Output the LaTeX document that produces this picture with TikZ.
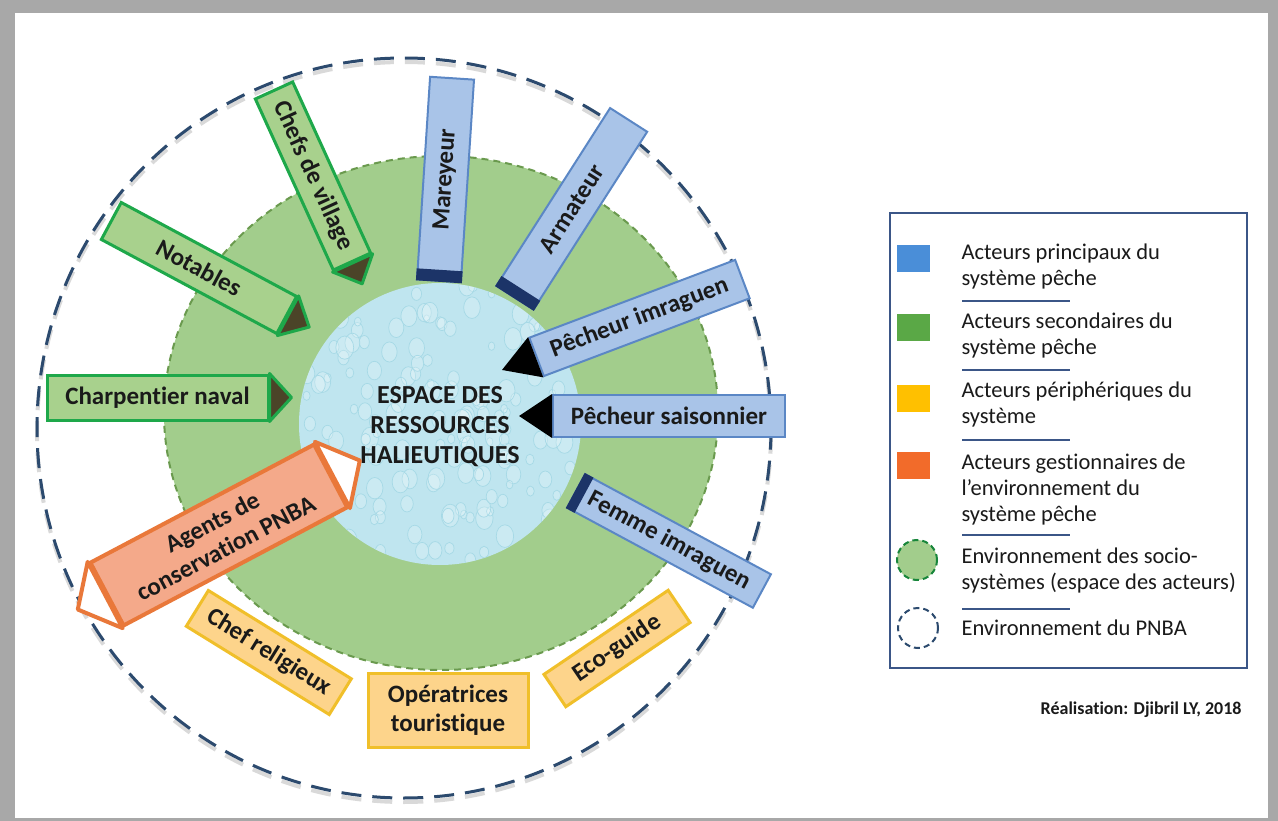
\documentclass[tikz,border=0pt]{standalone}
\usepackage{fontspec}
\setmainfont{Carlito}[Ligatures=NoCommon]
\usetikzlibrary{calc}
\definecolor{ink}{HTML}{1A1A1A}
\definecolor{primfill}{HTML}{A9C4E8}
\definecolor{primline}{HTML}{5B87C5}
\definecolor{primband}{HTML}{1C3468}
\definecolor{secfill}{HTML}{A8D18D}
\definecolor{secline}{HTML}{1EA84A}
\definecolor{sectip}{HTML}{4B4428}
\definecolor{perifill}{HTML}{FDD48B}
\definecolor{periline}{HTML}{F0BF2A}
\definecolor{gestfill}{HTML}{F4A98A}
\definecolor{gestline}{HTML}{E9783A}
\definecolor{disk}{HTML}{A2CD8C}
\definecolor{diskline}{HTML}{6A9A4E}
\definecolor{water}{HTML}{BFE5EF}
\definecolor{dropline}{HTML}{A6D9E6}
\definecolor{pnba}{HTML}{2C4A6E}
\definecolor{framegray}{HTML}{A8A8A8}
\definecolor{keyblue}{HTML}{4A8ED8}
\definecolor{keygreen}{HTML}{5AA846}
\definecolor{keyyellow}{HTML}{FFC000}
\definecolor{keyorange}{HTML}{F26B2A}
\definecolor{legline}{HTML}{3B5687}
\newcommand\boxfont{\bfseries\fontsize{25}{29}\selectfont}
\newcommand\keyfont{\fontsize{22.5}{26}\selectfont}

\begin{document}
\begin{tikzpicture}[x=1pt, y=-1pt,
	prim/.style = {rectangle, draw=primline, fill=primfill, line width=2, text=ink, font=\boxfont, inner sep=2},
	sec/.style  = {rectangle, draw=secline,  fill=secfill,  line width=3, text=ink, font=\boxfont, inner sep=2},
	peri/.style = {rectangle, draw=periline, fill=perifill, line width=3, text=ink, font=\boxfont, inner sep=2, align=center},
	gest/.style = {rectangle, draw=gestline, fill=gestfill, line width=4, text=ink, font=\boxfont, inner sep=2, align=center},
	gtip/.style = {fill=sectip, draw=secline, line width=3, line join=round},
	btip/.style = {fill=black},
	otip/.style = {fill=white, draw=gestline, line width=4, line join=round},
	band/.style = {fill=primband},
	key/.style  = {rectangle, minimum width=33, minimum height=27, inner sep=0},
	keytxt/.style = {anchor=west, align=left, text=ink, font=\keyfont},
	sep/.style  = {legline, line width=1.5}
	]
	
	% === === Background === ===
	\fill[framegray] (0,0) rectangle (1278,821);
	\fill[white] (15,13) rectangle (1268,818);
	
	% === === Circles === ===
	\draw[gray!30, line width=4, dash pattern=on 20pt off 11pt] (404,432) circle[x radius=367pt, y radius=370pt];
	\draw[pnba, line width=3, dash pattern=on 20pt off 11pt] (404,428) circle[x radius=367pt, y radius=370pt];
	\filldraw[fill=disk, draw=diskline, line width=2, dash pattern=on 7pt off 5pt] (441,413) circle[x radius=277pt, y radius=257pt];
	\fill[water] (440,424) circle[radius=141pt];
	\begin{scope}
		\clip (440,424) circle[radius=141pt];
		\pgfmathsetseed{7}
		\foreach \i in {1,...,170}{
			\pgfmathsetmacro\dx{rand*140}
			\pgfmathsetmacro\dy{rand*140}
			\pgfmathsetmacro\rr{3+6*rnd}
			\draw[dropline, line width=0.7, fill=white, fill opacity=0.2] (440+\dx,424+\dy) circle[x radius=\rr pt, y radius=1.3*\rr pt];
		}
	\end{scope}
	\node[text=ink, font=\bfseries\fontsize{26}{30}\selectfont, align=center] (res) at (440,427) {ESPACE DES\\RESSOURCES\\HALIEUTIQUES};
	
	% === === Nodes === ===
	\node[prim, rotate=86.3, minimum width=203, minimum height=44]	(mar)	at (445.5,179.5)	{Mareyeur};
	\node[prim, rotate=57.4, minimum width=211, minimum height=44]	(arm)	at (571.8,208.8)	{Armateur};
	\node[prim, rotate=20.7, minimum width=220, minimum height=41]	(pim)	at (639.5,318)	{Pêcheur imraguen};
	\node[prim, minimum width=232, minimum height=42]				(psa)	at (669,416)		{Pêcheur saisonnier};
	\node[prim, rotate=-28.3, minimum width=211, minimum height=38]	(fim)	at (669,541)		{Femme imraguen};
	
	\node[sec, rotate=-65.5, minimum width=188, minimum height=41]	(chv)	at (313,176)		{Chefs de village};
	\node[sec, rotate=-28.2, minimum width=199, minimum height=42]	(not)	at (199,268)		{Notables};
	\node[sec, minimum width=221, minimum height=45]				(cha)	at (157.5,397.5)	{Charpentier naval};
	
	\node[gest, rotate=27.85, minimum width=253, minimum height=71]	(agt)	at (218.8,535)		{Agents de\\conservation PNBA};
	
	\node[peri, rotate=-31.7, minimum width=168, minimum height=42]	(chr)	at (268.8,652.5)	{Chef religieux};
	\node[peri, minimum width=160, minimum height=74]				(ope)	at (448,710)		{Opératrices\\touristique};
	\node[peri, rotate=34.1, minimum width=150, minimum height=39]	(eco)	at (617,648.5)		{Eco-guide};
	
	% === === Tips === ===
	\filldraw[gtip]	(chv.north east) -- ($(chv.east)!-23pt!(chv.west)$) -- (chv.south east) -- cycle;
	\filldraw[gtip]	(not.north east) -- ($(not.east)!-24pt!(not.west)$) -- (not.south east) -- cycle;
	\filldraw[gtip]	(cha.north east) -- ($(cha.east)!-22pt!(cha.west)$) -- (cha.south east) -- cycle;
	\fill[btip]		(pim.north west) -- ($(pim.west)!-36pt!(pim.east)$) -- (pim.south west) -- cycle;
	\fill[btip]		(psa.north west) -- ($(psa.west)!-33pt!(psa.east)$) -- (psa.south west) -- cycle;
	\filldraw[otip]	(agt.north east) -- ($(agt.east)!-31pt!(agt.west)$) -- (agt.south east) -- cycle;
	\filldraw[otip]	(agt.north west) -- ($(agt.west)!-31pt!(agt.east)$) -- (agt.south west) -- cycle;
	\fill[band]	(mar.north west) -- (mar.south west) -- ($(mar.south west)!12pt!(mar.south east)$) -- ($(mar.north west)!12pt!(mar.north east)$) -- cycle;
	\fill[band]	(arm.north west) -- (arm.south west) -- ($(arm.south west)!12pt!(arm.south east)$) -- ($(arm.north west)!12pt!(arm.north east)$) -- cycle;
	\fill[band]	(fim.north west) -- (fim.south west) -- ($(fim.south west)!10pt!(fim.south east)$) -- ($(fim.north west)!10pt!(fim.north east)$) -- cycle;
	
	% === === Legend === ===
	\node[draw=legline, line width=2, minimum width=357, minimum height=454, inner sep=0] (leg) at (1068.5,440.5) {};
	
	\node[key, fill=keyblue]	(k1)	at (913.5,259)	{};
	\node[key, fill=keygreen]	(k2)	at (913.5,327.5)	{};
	\node[key, fill=keyyellow]	(k3)	at (913.5,398.5)	{};
	\node[key, fill=keyorange]	(k4)	at (913.5,465)	{};
	\node[circle, minimum size=40, inner sep=0, fill=disk, draw=secline!80!black, line width=2, dash pattern=on 6pt off 4pt]	(k5)	at (917,560)	{};
	\node[circle, minimum size=40, inner sep=0, fill=white, draw=pnba, line width=2, dash pattern=on 6pt off 4pt]	(k6)	at (918,628)	{};
	
	\node[keytxt]	(t1)	at (958,267)	{Acteurs principaux du\\système pêche};
	\node[keytxt]	(t2)	at (958,336)	{Acteurs secondaires du\\système pêche};
	\node[keytxt]	(t3)	at (958,405)	{Acteurs périphériques du\\système};
	\node[keytxt]	(t4)	at (958,489)	{Acteurs gestionnaires de\\l’environnement du\\système pêche};
	\node[keytxt]	(t5)	at (958,570)	{Environnement des socio-\\systèmes (espace des acteurs)};
	\node[keytxt]	(t6)	at (958,628)	{Environnement du PNBA};
	
	\foreach \y in {301,370,440,535,609}
		\draw[sep] (962,\y) -- (1070,\y);
	
	\node[anchor=east, text=ink, font=\bfseries\fontsize{18}{21}\selectfont] (real) at (1245,710) {Réalisation: Djibril LY, 2018};
	
\end{tikzpicture}
\end{document}
